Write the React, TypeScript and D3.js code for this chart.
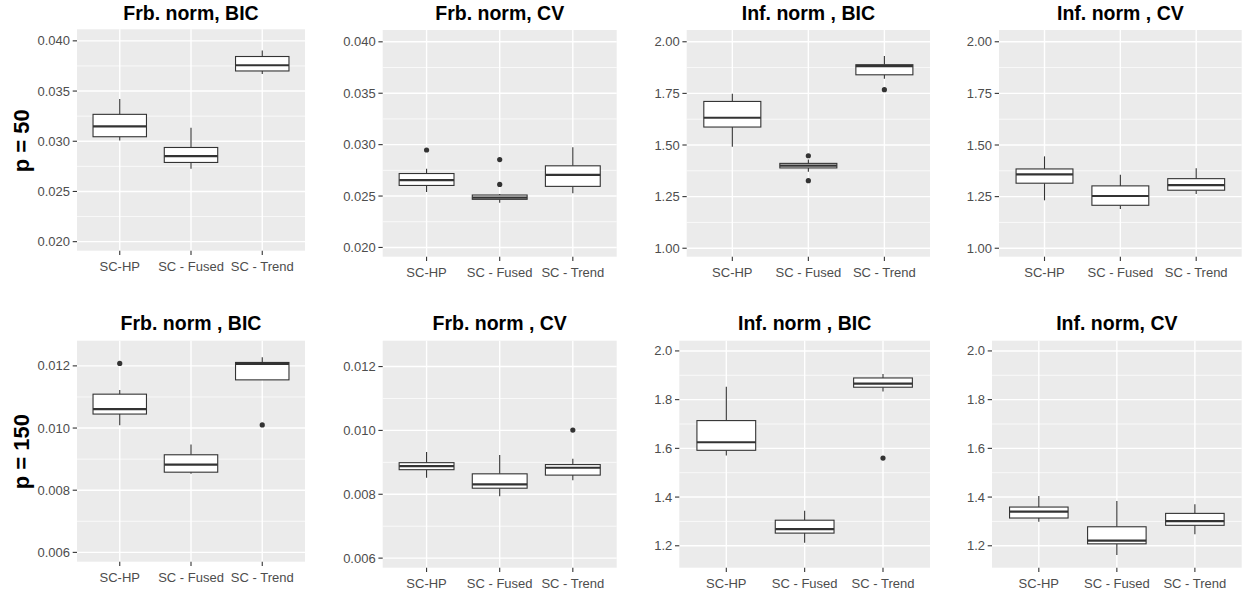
import React from "react";
import * as d3 from "d3";

const categories = ["SC-HP", "SC - Fused", "SC - Trend"];
const rowLabels = ["p = 50", "p = 150"];

// [lower whisker, q1, median, q3, upper whisker] per category
const frbBic50 = [[0.03008, 0.03045, 0.03148, 0.03268, 0.03421], [0.02725, 0.02789, 0.02852, 0.02938, 0.03135], [0.03671, 0.037, 0.03757, 0.03844, 0.03903]];
const frbBic50Out = [[], [], []];
const frbCv50 = [[0.02539, 0.02603, 0.02655, 0.02719, 0.02765], [0.02435, 0.02468, 0.02484, 0.0251, 0.0252], [0.02526, 0.02594, 0.02706, 0.02794, 0.02974]];
const frbCv50Out = [[0.02948], [0.02855, 0.02613], []];
const infBic50 = [[1.492, 1.587, 1.632, 1.711, 1.748], [1.371, 1.389, 1.4, 1.411, 1.43], [1.821, 1.84, 1.882, 1.889, 1.931]];
const infBic50Out = [[], [1.448, 1.327], [1.768]];
const infCv50 = [[1.232, 1.315, 1.358, 1.384, 1.445], [1.19, 1.208, 1.253, 1.302, 1.356], [1.263, 1.281, 1.306, 1.337, 1.387]];
const infCv50Out = [[], [], []];
const frbBic150 = [[0.01009, 0.01045, 0.01061, 0.01109, 0.01122], [0.00853, 0.00858, 0.00882, 0.00914, 0.00947], [0.01155, 0.01155, 0.01206, 0.01211, 0.01228]];
const frbBic150Out = [[0.01208], [], [0.0101]];
const frbCv150 = [[0.00852, 0.00877, 0.00888, 0.00899, 0.00932], [0.00794, 0.00819, 0.00831, 0.00864, 0.00923], [0.00844, 0.0086, 0.00883, 0.00893, 0.00911]];
const frbCv150Out = [[], [], [0.01001]];
const infBic150 = [[1.571, 1.592, 1.625, 1.714, 1.853], [1.212, 1.252, 1.268, 1.305, 1.344], [1.833, 1.851, 1.866, 1.889, 1.905]];
const infBic150Out = [[], [], [1.56]];
const infCv150 = [[1.299, 1.314, 1.34, 1.359, 1.404], [1.162, 1.208, 1.221, 1.278, 1.384], [1.247, 1.284, 1.301, 1.333, 1.37]];
const infCv150Out = [[], [], []];

const ticksFrb50 = [0.02, 0.025, 0.03, 0.035, 0.04];
const minorFrb50 = [0.0225, 0.0275, 0.0325, 0.0375];
const ticksInf50 = [1.0, 1.25, 1.5, 1.75, 2.0];
const minorInf50 = [1.125, 1.375, 1.625, 1.875];
const ticksFrb150 = [0.006, 0.008, 0.01, 0.012];
const minorFrb150 = [0.007, 0.009, 0.011];
const ticksInf150 = [1.2, 1.4, 1.6, 1.8, 2.0];
const minorInf150 = [1.3, 1.5, 1.7, 1.9];

const domFrb50 = [0.0191, 0.04115];
const domInf50 = [0.959, 2.057];
const domFrb150 = [0.0057, 0.01281];
const domInf150 = [1.11, 2.042];

const panels = [
  { title: "Frb. norm, BIC", stats: frbBic50, out: frbBic50Out, ticks: ticksFrb50, minor: minorFrb50, fmt: ".3f", domain: domFrb50, rect: [77, 29.3, 305, 250.7], titleY: 20 },
  { title: "Frb. norm, CV", stats: frbCv50, out: frbCv50Out, ticks: ticksFrb50, minor: minorFrb50, fmt: ".3f", domain: domFrb50, rect: [382.7, 30, 616.7, 256.7], titleY: 20 },
  { title: "Inf. norm , BIC", stats: infBic50, out: infBic50Out, ticks: ticksInf50, minor: minorInf50, fmt: ".2f", domain: domInf50, rect: [686.7, 30, 930, 256.7], titleY: 20 },
  { title: "Inf. norm , CV", stats: infCv50, out: infCv50Out, ticks: ticksInf50, minor: minorInf50, fmt: ".2f", domain: domInf50, rect: [999, 30, 1241.7, 256.7], titleY: 20 },
  { title: "Frb. norm , BIC", stats: frbBic150, out: frbBic150Out, ticks: ticksFrb150, minor: minorFrb150, fmt: ".3f", domain: domFrb150, rect: [77, 340.7, 305, 561.7], titleY: 329.5 },
  { title: "Frb. norm , CV", stats: frbCv150, out: frbCv150Out, ticks: ticksFrb150, minor: minorFrb150, fmt: ".3f", domain: domFrb150, rect: [382.7, 340.7, 616.7, 567.7], titleY: 329.5 },
  { title: "Inf. norm , BIC", stats: infBic150, out: infBic150Out, ticks: ticksInf150, minor: minorInf150, fmt: ".1f", domain: domInf150, rect: [679.3, 340.7, 930, 567.7], titleY: 329.5 },
  { title: "Inf. norm, CV", stats: infCv150, out: infCv150Out, ticks: ticksInf150, minor: minorInf150, fmt: ".1f", domain: domInf150, rect: [992, 340.7, 1241.7, 567.7], titleY: 329.5 },
];

const FONT = "'Liberation Sans', Arial, Helvetica, sans-serif";
const INK = "#333333";

function Panel({ p }: { p: any }) {
  const [x0, y0, x1, y1] = p.rect;
  const x = d3.scalePoint<string>().domain(categories).range([x0, x1]).padding(0.6);
  const y = d3.scaleLinear().domain(p.domain).range([y1, y0]);
  const bw = x.step() * 0.75;
  const fmt = d3.format(p.fmt);
  return (
    <g>
      <rect x={x0} y={y0} width={x1 - x0} height={y1 - y0} fill="#EBEBEB" />
      {p.minor.map((v: number, i: number) => (
        <line key={"mn" + i} x1={x0} x2={x1} y1={y(v)} y2={y(v)} stroke="#fff" strokeWidth={0.7} />
      ))}
      {p.ticks.map((v: number, i: number) => (
        <line key={"mj" + i} x1={x0} x2={x1} y1={y(v)} y2={y(v)} stroke="#fff" strokeWidth={1.4} />
      ))}
      {categories.map((c) => (
        <line key={"vg" + c} x1={x(c)} x2={x(c)} y1={y0} y2={y1} stroke="#fff" strokeWidth={1.4} />
      ))}
      {categories.map((c, i) => {
        const s = p.stats[i];
        const cx = x(c) as number;
        return (
          <g key={"box" + c}>
            <line x1={cx} x2={cx} y1={y(s[3])} y2={y(s[4])} stroke={INK} strokeWidth={1.1} />
            <line x1={cx} x2={cx} y1={y(s[1])} y2={y(s[0])} stroke={INK} strokeWidth={1.1} />
            <rect x={cx - bw / 2} y={y(s[3])} width={bw} height={Math.max(0.5, y(s[1]) - y(s[3]))} fill="#fff" stroke={INK} strokeWidth={1.1} />
            <line x1={cx - bw / 2} x2={cx + bw / 2} y1={y(s[2])} y2={y(s[2])} stroke={INK} strokeWidth={2.2} />
            {p.out[i].map((o: number, k: number) => (
              <circle key={k} cx={cx} cy={y(o)} r={2.6} fill={INK} />
            ))}
          </g>
        );
      })}
      {p.ticks.map((v: number, i: number) => (
        <g key={"yt" + i}>
          <line x1={x0 - 4.3} x2={x0} y1={y(v)} y2={y(v)} stroke={INK} strokeWidth={1.1} />
          <text x={x0 - 7} y={y(v)} dy="0.35em" textAnchor="end" fontSize={13} fill="#4D4D4D" fontFamily={FONT}>
            {fmt(v)}
          </text>
        </g>
      ))}
      {categories.map((c) => (
        <g key={"xt" + c}>
          <line x1={x(c)} x2={x(c)} y1={y1} y2={y1 + 4.3} stroke={INK} strokeWidth={1.1} />
          <text x={x(c)} y={y1 + 19.8} textAnchor="middle" fontSize={13} fill="#4D4D4D" fontFamily={FONT}>
            {c}
          </text>
        </g>
      ))}
      <text x={(x0 + x1) / 2} y={p.titleY} textAnchor="middle" fontSize={19.5} fontWeight="bold" fill="#000" fontFamily={FONT}>
        {p.title}
      </text>
    </g>
  );
}

export default function App() {
  return (
    <div style={{ position: "absolute", left: 0, top: 0 }}>
      <svg width={1244} height={596} style={{ display: "block", background: "#fff" }}>
        {panels.map((p, i) => (
          <Panel key={i} p={p} />
        ))}
        <text transform="translate(29,140.7) rotate(-90)" textAnchor="middle" fontSize={22} fontWeight="bold" fill="#000" fontFamily={FONT}>
          {rowLabels[0]}
        </text>
        <text transform="translate(29,451.7) rotate(-90)" textAnchor="middle" fontSize={22} fontWeight="bold" fill="#000" fontFamily={FONT}>
          {rowLabels[1]}
        </text>
      </svg>
    </div>
  );
}
